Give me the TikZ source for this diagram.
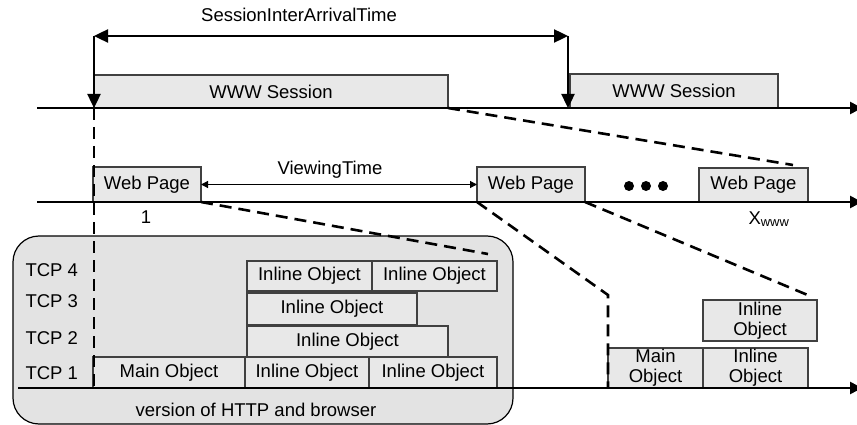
\documentclass[tikz,border=0pt]{standalone}
\usepackage{fontspec}
\setmainfont{Liberation Sans}
\usetikzlibrary{arrows.meta,positioning}
\tikzset{
  obj/.style={draw=black!75, fill=black!9, line width=1.3pt, inner sep=0pt, outer sep=0pt,
    anchor=south west, align=center},
  axis/.style={line width=2.6pt, -{Triangle[length=12pt,width=12pt]}},
  zoomline/.style={line width=2.6pt, dash pattern=on 12pt off 7pt},
  iat/.style={line width=2.4pt},
  tip/.tip={Triangle[length=14pt,width=13pt]},
  vtime/.style={line width=1.2pt, {Triangle[length=7pt,width=7pt]}-{Triangle[length=7pt,width=7pt]}},
}

\begin{document}
\begin{tikzpicture}[x=1pt,y=-1pt,font=\fontsize{18.5}{20}\selectfont]
  \useasboundingbox (0,0) rectangle (857,425);
  % connection group
  \node[draw, fill=black!11, line width=1.2pt, rounded corners=26pt, outer sep=0pt,
    minimum width=500pt, minimum height=188pt, anchor=north west] (grp) at (13,236) {};
  \node (ver) at (256,410) {version of HTTP and browser};

  % sessions
  \node[obj, minimum width=354pt, minimum height=33pt] (ses1) at (94,108) {WWW Session};
  \node[obj, minimum width=208pt, minimum height=34pt] (ses2) at (570,108) {WWW Session};
  \draw[axis] (37,108) -- (862,108);

  \coordinate (ia1) at (94,36);
  \coordinate (ia2) at (568,36);
  \draw[iat, tip-tip] (ia1) -- (ia2);
  \draw[iat, -tip] (ia1) -- (ses1.south west);
  \draw[iat, -tip] (ia2) -- (ia2 |- ses2.south);
  \node (iatlbl) at (299,15) {SessionInterArrivalTime};

  % web pages
  \node[obj, minimum width=108pt, minimum height=35pt] (wp1) at (93,202) {Web Page};
  \node[obj, minimum width=108pt, minimum height=35pt] (wp2) at (477,202) {Web Page};
  \node[obj, minimum width=109pt, minimum height=34pt] (wp3) at (699,202) {Web Page};
  \foreach \x in {629,646,663}
    \fill (\x,186) circle (5pt);
  \draw[axis] (37,202) -- (862,202);
  \node (n1) at (146,217) {1};
  \node (nx) at (769,219) {X\textsubscript{www}};
  \draw[vtime] (wp1.east) -- (wp2.west);
  \node (vtlbl) at (330,170) {ViewingTime};

  % objects on the TCP connections
  \node[obj, minimum width=125pt, minimum height=30pt] (in4a) at (247,291) {Inline Object};
  \node[obj, minimum width=125pt, minimum height=30pt, right=0pt of in4a] (in4b) {Inline Object};
  \node[obj, minimum width=170pt, minimum height=32pt] (in3) at (247,325) {Inline Object};
  \node[obj, minimum width=201pt, minimum height=31pt] (in2) at (247,357) {Inline Object};
  \node[obj, minimum width=152pt, minimum height=31pt] (main1) at (93,388) {Main Object};
  \node[obj, minimum width=124pt, minimum height=31pt, right=0pt of main1] (in1a) {Inline Object};
  \node[obj, minimum width=128pt, minimum height=31pt, right=0pt of in1a] (in1b) {Inline Object};
  \node[anchor=west] (tcp4) at (22,270) {TCP 4};
  \node[anchor=west] (tcp3) at (22,301) {TCP 3};
  \node[anchor=west] (tcp2) at (22,338) {TCP 2};
  \node[anchor=west] (tcp1) at (22,373) {TCP 1};

  \node[obj, minimum width=95pt, minimum height=40pt] (rmain) at (608,388) {Main\\Object};
  \node[obj, minimum width=105pt, minimum height=40pt, right=0pt of rmain] (rin1) {Inline\\Object};
  \node[obj, minimum width=114pt, minimum height=41pt] (rin2) at (703,341) {Inline\\Object};
  \draw[axis] (18,388) -- (862,388);

  % zoom lines
  \coordinate (z1) at (793,165);
  \coordinate (z2) at (488,254);
  \coordinate (z3) at (608,295);
  \coordinate (z4) at (810,296);
  \draw[zoomline] (ses1.south west) -- (ses1.south west |- main1.south);
  \draw[zoomline] (ses1.south east) -- (z1);
  \draw[zoomline] (wp1.south east) -- (z2);
  \draw[zoomline] (wp2.south west) -- (z3) -- (rmain.south west);
  \draw[zoomline] (wp2.south east) -- (z4);
\end{tikzpicture}
\end{document}
